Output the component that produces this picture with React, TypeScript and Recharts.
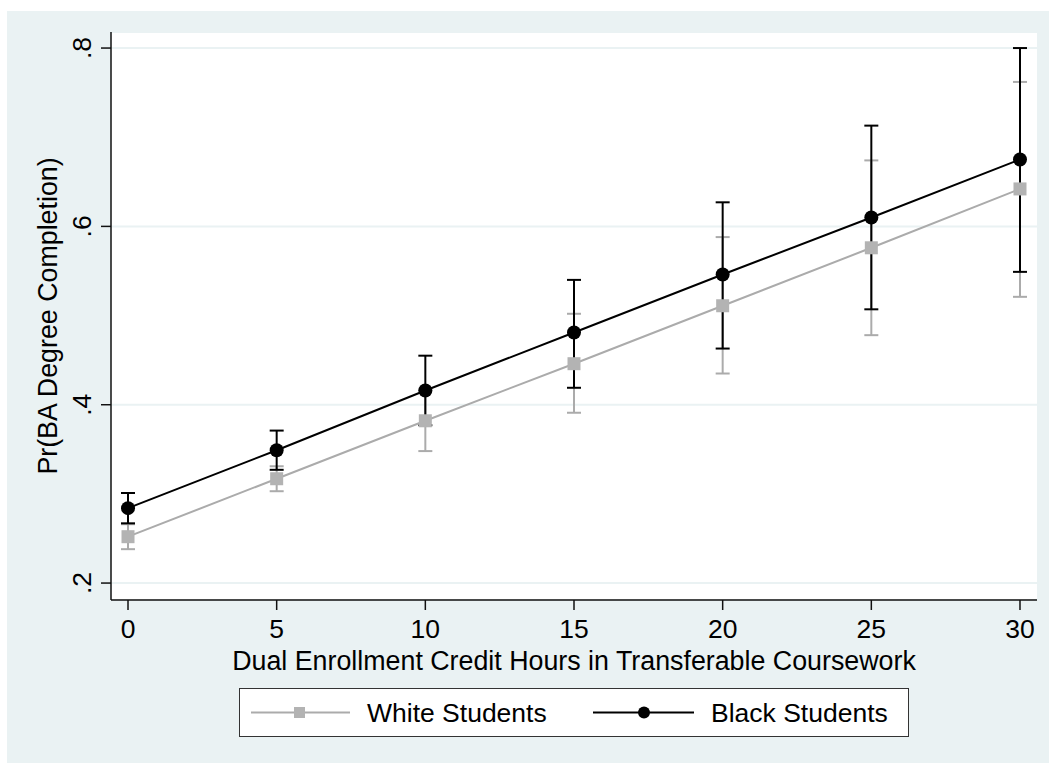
import {
  ComposedChart,
  Line,
  ErrorBar,
  XAxis,
  YAxis,
  CartesianGrid,
  Legend,
} from "recharts";

const credits = [0, 5, 10, 15, 20, 25, 30];
const whiteProb = [0.252, 0.317, 0.382, 0.446, 0.511, 0.576, 0.642];
const whiteLow = [0.238, 0.303, 0.348, 0.391, 0.435, 0.478, 0.521];
const whiteHigh = [0.266, 0.331, 0.416, 0.502, 0.588, 0.674, 0.762];
const blackProb = [0.284, 0.349, 0.416, 0.481, 0.546, 0.61, 0.675];
const blackLow = [0.267, 0.327, 0.377, 0.419, 0.463, 0.507, 0.549];
const blackHigh = [0.301, 0.371, 0.455, 0.54, 0.627, 0.713, 0.8];
const xTicks = [0, 5, 10, 15, 20, 25, 30];
const yTicks = [0.2, 0.4, 0.6, 0.8];

const seriesNames = ["White Students", "Black Students"];
const xTitle = "Dual Enrollment Credit Hours in Transferable Coursework";
const yTitle = "Pr(BA Degree Completion)";

const FONT = "'Liberation Sans', Arial, Helvetica, sans-serif";
const BG = "#eaf2f3";
const GRAY = "#ababab";
const GRAY_MARK = "#b3b3b3";

const data = credits.map((c, i) => ({
  credits: c,
  white: whiteProb[i],
  black: blackProb[i],
  whiteErr: [whiteProb[i] - whiteLow[i], whiteHigh[i] - whiteProb[i]],
  blackErr: [blackProb[i] - blackLow[i], blackHigh[i] - blackProb[i]],
}));

const fmtProb = (v: number) => String(v).replace(/^0/, "");

const YTick = (props: any) => {
  const { x, y, payload } = props;
  const bx = x - 10;
  return (
    <text
      x={bx}
      y={y}
      transform={`rotate(-90, ${bx}, ${y})`}
      textAnchor="middle"
      fontFamily={FONT}
      fontSize={26.5}
      fill="#000"
    >
      {fmtProb(payload.value)}
    </text>
  );
};

const XTick = (props: any) => {
  const { x, y, payload } = props;
  return (
    <text x={x} y={y + 28} textAnchor="middle" fontFamily={FONT} fontSize={26.5} fill="#000">
      {payload.value}
    </text>
  );
};

const YTitle = (props: any) => {
  const { viewBox } = props;
  const cy = viewBox.y + viewBox.height / 2;
  const bx = 57;
  return (
    <text
      x={bx}
      y={cy}
      transform={`rotate(-90, ${bx}, ${cy})`}
      textAnchor="middle"
      fontFamily={FONT}
      fontSize={26.8}
      fill="#000"
    >
      {yTitle}
    </text>
  );
};

const XTitle = (props: any) => {
  const { viewBox } = props;
  const cx = viewBox.x + viewBox.width / 2;
  return (
    <text x={cx} y={viewBox.y + 70} textAnchor="middle" fontFamily={FONT} fontSize={26.8} fill="#000">
      {xTitle}
    </text>
  );
};

const SquareDot = (props: any) => {
  const { cx, cy, index } = props;
  return <rect key={`sq-${index}`} x={cx - 6.5} y={cy - 6.5} width={13} height={13} fill={GRAY_MARK} />;
};

const StataLegend = () => (
  <svg width={670} height={49} style={{ display: "block" }}>
    <rect x={0.5} y={0.5} width={669} height={48} fill="#fff" stroke="#333" strokeWidth={1} />
    <line x1={12} y1={24.5} x2={111} y2={24.5} stroke={GRAY} strokeWidth={2} />
    <rect x={55} y={19} width={11} height={11} fill={GRAY_MARK} />
    <text x={128} y={34} fontFamily={FONT} fontSize={26.5} fill="#000">
      {seriesNames[0]}
    </text>
    <line x1={354} y1={24.5} x2={455} y2={24.5} stroke="#000" strokeWidth={2} />
    <circle cx={405} cy={24.5} r={6} fill="#000" />
    <text x={472} y={34} fontFamily={FONT} fontSize={26.5} fill="#000">
      {seriesNames[1]}
    </text>
  </svg>
);

export default function App() {
  return (
    <div style={{ position: "absolute", left: 0, top: 0, width: 1049, height: 763, background: "#fff" }}>
      <div style={{ position: "absolute", left: 7, top: 11, right: 0, bottom: 0, background: BG }} />
      <div style={{ position: "absolute", left: 0, top: 0 }}>
        <ComposedChart
          width={1049}
          height={763}
          data={data}
          margin={{ top: 32, right: 12, left: 0, bottom: 26 }}
        >
          <CartesianGrid vertical={false} fill="#fff" stroke={BG} strokeWidth={2} />
          <XAxis
            dataKey="credits"
            type="number"
            domain={[-0.572, 30.572]}
            ticks={xTicks}
            allowDataOverflow
            height={88}
            tickSize={10}
            tickMargin={0}
            tick={<XTick />}
            axisLine={{ stroke: "#111", strokeWidth: 1.5 }}
            tickLine={{ stroke: "#111", strokeWidth: 1.5 }}
            label={<XTitle />}
          />
          <YAxis
            type="number"
            domain={[0.181, 0.818]}
            ticks={yTicks}
            allowDataOverflow
            width={111}
            tickSize={10}
            tickMargin={0}
            tick={<YTick />}
            axisLine={{ stroke: "#111", strokeWidth: 1.5 }}
            tickLine={{ stroke: "#111", strokeWidth: 1.5 }}
            label={<YTitle />}
          />
          <Legend
            verticalAlign="bottom"
            content={<StataLegend />}
            wrapperStyle={{ left: 239, width: 670, height: 49, bottom: 26 }}
          />
          <Line
            dataKey="white"
            stroke="none"
            dot={false}
            activeDot={false}
            legendType="none"
            isAnimationActive={false}
          >
            <ErrorBar dataKey="whiteErr" width={7} strokeWidth={2} stroke={GRAY} direction="y" />
          </Line>
          <Line
            dataKey="black"
            stroke="none"
            dot={false}
            activeDot={false}
            legendType="none"
            isAnimationActive={false}
          >
            <ErrorBar dataKey="blackErr" width={7} strokeWidth={2} stroke="#000" direction="y" />
          </Line>
          <Line
            type="linear"
            dataKey="white"
            stroke={GRAY}
            strokeWidth={2}
            dot={<SquareDot />}
            activeDot={false}
            isAnimationActive={false}
          />
          <Line
            type="linear"
            dataKey="black"
            stroke="#000"
            strokeWidth={2}
            dot={{ r: 7, fill: "#000", stroke: "none" }}
            activeDot={false}
            isAnimationActive={false}
          />
        </ComposedChart>
      </div>
    </div>
  );
}
